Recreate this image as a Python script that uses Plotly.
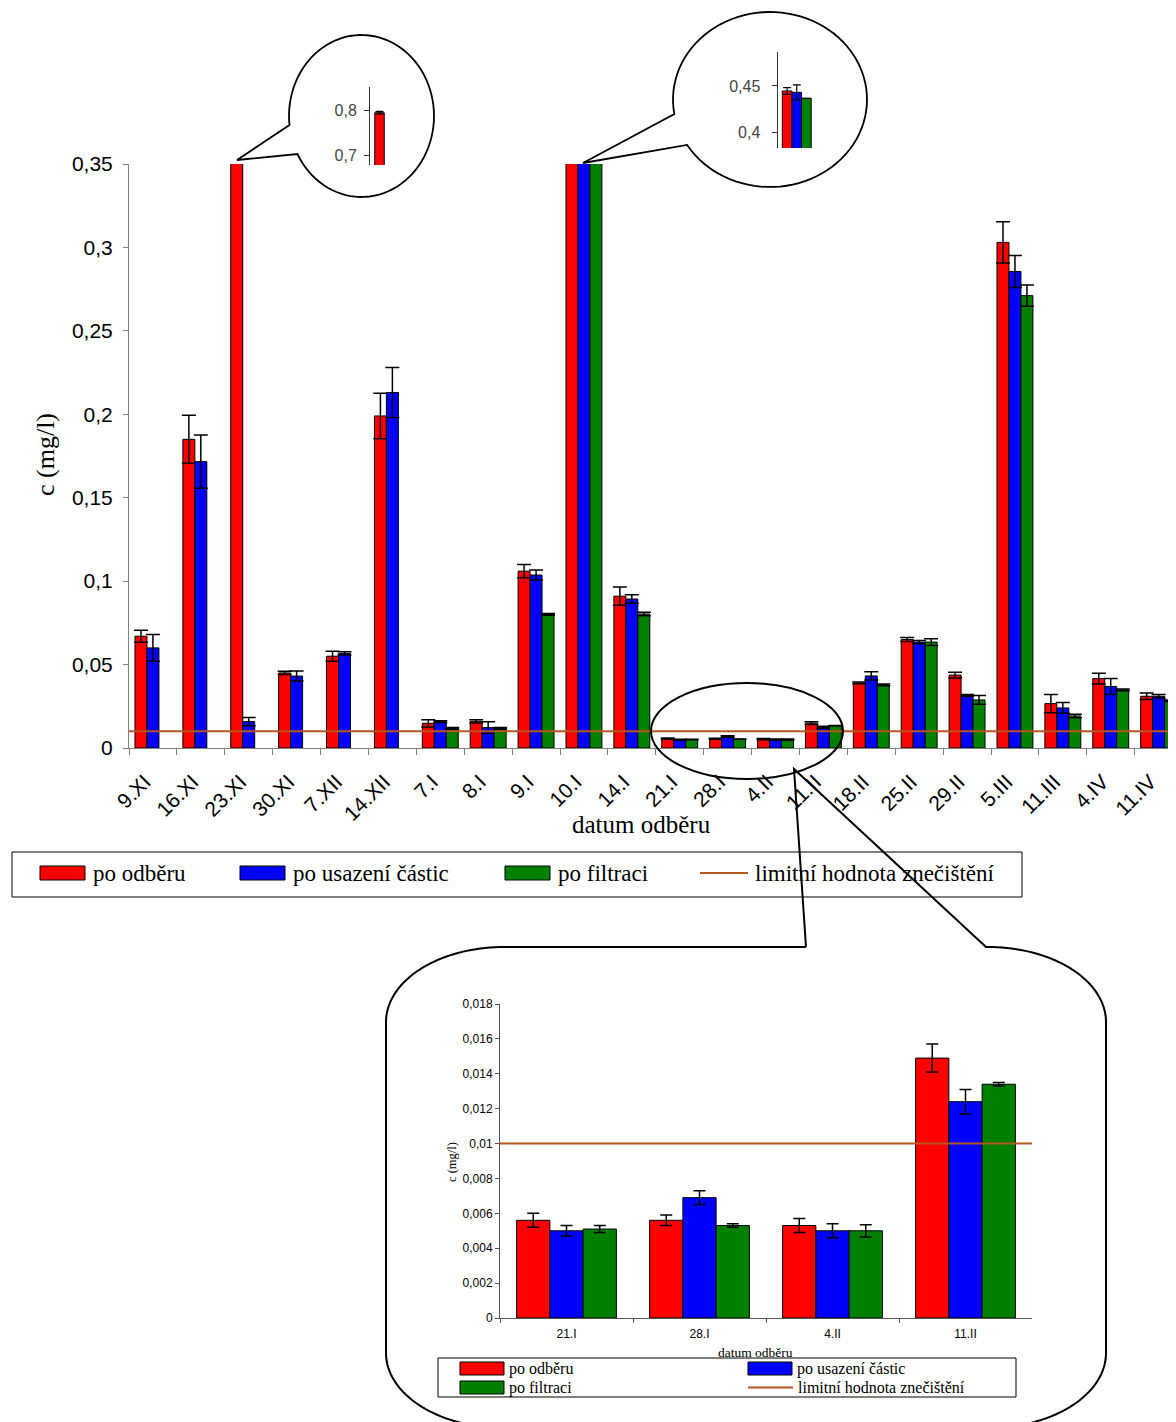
import numpy as np
import plotly.graph_objects as go

W, H = 1176, 1422
OFF = 8  # page body margin of the browser

# ---------------- data ----------------
CATEGORIES = ["9.XI", "16.XI", "23.XI", "30.XI", "7.XII", "14.XII", "7.I", "8.I", "9.I",
              "10.I", "14.I", "21.I", "28.I", "4.II", "11.II", "18.II", "25.II", "29.II",
              "5.III", "11.III", "4.IV", "11.IV"]
RED = [0.067, 0.185, 0.794, 0.045, 0.055, 0.199, 0.0148, 0.016, 0.106, 0.4447, 0.091,
       0.0056, 0.0056, 0.0053, 0.0149, 0.039, 0.065, 0.0437, 0.303, 0.0266, 0.0416, 0.031]
RED_ERR = [0.0036, 0.0144, 0.003, 0.001, 0.003, 0.0136, 0.0022, 0.001, 0.004, 0.0036, 0.0055,
           0.0004, 0.0003, 0.0004, 0.0008, 0.0005, 0.0012, 0.0017, 0.0124, 0.0054, 0.0032, 0.002]
BLUE = [0.060, 0.1716, 0.0158, 0.0431, 0.0567, 0.213, 0.0158, 0.0122, 0.1037, 0.4432, 0.0893,
        0.0050, 0.0069, 0.0050, 0.0124, 0.0432, 0.0635, 0.0315, 0.2856, 0.024, 0.0369, 0.031]
BLUE_ERR = [0.008, 0.016, 0.0025, 0.003, 0.001, 0.015, 0.0005, 0.0035, 0.003, 0.008, 0.0025,
            0.0003, 0.0004, 0.0004, 0.0007, 0.0025, 0.001, 0.0005, 0.0096, 0.0032, 0.0048, 0.001]
GREEN = [None, None, None, None, None, None, 0.0118, 0.0118, 0.0801, 0.4368, 0.0803,
         0.0051, 0.0053, 0.0050, 0.0134, 0.0378, 0.0635, 0.0288, 0.2711, 0.0192, 0.0348, 0.0283]
GREEN_ERR = [0, 0, 0, 0, 0, 0, 0.0005, 0.0005, 0.0005, 0.0, 0.001,
             0.0002, 0.0001, 0.00035, 0.0001, 0.0005, 0.002, 0.0026, 0.0064, 0.001, 0.0005, 0.0005]
LIMIT = 0.01

SERIES_NAMES = ["po odběru", "po usazení částic", "po filtraci"]
LIMIT_NAME = "limitní hodnota znečištění"
X_TITLE = "datum odběru"
Y_TITLE = "c (mg/l)"

MAIN_YTICKS = [0, 0.05, 0.1, 0.15, 0.2, 0.25, 0.3, 0.35]
INSET1_YTICKS = [0.7, 0.8]
INSET2_YTICKS = [0.4, 0.45]
ZOOM_IDX = [11, 12, 13, 14]   # 21.I .. 11.II

COLORS = ["#FF0000", "#0000FF", "#008000"]
LIMIT_COLOR = "#B8561E"
SANS = "Liberation Sans"
SERIF = "Liberation Serif"


def X(px):
    return (px - OFF) / W


def Y(py):
    return 1 - (py - OFF) / H


fig = go.Figure()

series = [(RED, RED_ERR), (BLUE, BLUE_ERR), (GREEN, GREEN_ERR)]

# main chart
for (vals, errs), color, name in zip(series, COLORS, SERIES_NAMES):
    fig.add_bar(x=CATEGORIES, y=vals, name=name, xaxis="x", yaxis="y",
                marker=dict(color=color, line=dict(color="black", width=1)),
                error_y=dict(type="data", array=errs, color="black", thickness=1.5, width=7),
                showlegend=False)

# inset 1 (23.XI)
for (vals, errs), color, name in zip(series, COLORS, SERIES_NAMES):
    fig.add_bar(x=[CATEGORIES[2]], y=[vals[2]], name=name, xaxis="x2", yaxis="y2",
                marker=dict(color=color, line=dict(color="black", width=1)),
                error_y=dict(type="data", array=[errs[2]], color="black", thickness=1.2, width=4),
                showlegend=False)

# inset 2 (10.I)
for (vals, errs), color, name in zip(series, COLORS, SERIES_NAMES):
    fig.add_bar(x=[CATEGORIES[9]], y=[vals[9]], name=name, xaxis="x3", yaxis="y3",
                marker=dict(color=color, line=dict(color="black", width=1)),
                error_y=dict(type="data", array=[errs[9]], color="black", thickness=1.2, width=4),
                showlegend=False)

# inset 4 (21.I - 11.II)
for (vals, errs), color, name in zip(series, COLORS, SERIES_NAMES):
    fig.add_bar(x=[CATEGORIES[i] for i in ZOOM_IDX], y=[vals[i] for i in ZOOM_IDX], name=name,
                xaxis="x4", yaxis="y4",
                marker=dict(color=color, line=dict(color="black", width=1)),
                error_y=dict(type="data", array=[errs[i] for i in ZOOM_IDX], color="black",
                             thickness=1.5, width=6),
                showlegend=False)

AX_GREY = "#808080"

fig.update_layout(
    width=W, height=H, margin=dict(l=0, r=0, t=0, b=0),
    paper_bgcolor="white", plot_bgcolor="white",
    barmode="group", bargap=0.25, bargroupgap=0,
    separators=", ",
    showlegend=False,
    xaxis=dict(domain=[X(129), 1.0], range=[-0.5, 21.53], type="category", anchor="y",
               tickvals=CATEGORIES, ticktext=[c + "\u00a0\u00a0" for c in CATEGORIES],
               showline=True, linecolor=AX_GREY, linewidth=1, ticks="outside", ticklen=6,
               tickcolor=AX_GREY, tickson="boundaries", tickangle=-45, ticklabelstandoff=4,
               tickfont=dict(family=SANS, size=21, color="black"),
               showgrid=False, zeroline=False, automargin=False),
    yaxis=dict(domain=[Y(748), Y(164)], range=[0, 0.35], anchor="x",
               tickvals=MAIN_YTICKS, showline=True, linecolor=AX_GREY, linewidth=1,
               ticks="outside", ticklen=5, tickcolor=AX_GREY, ticklabelstandoff=6,
               tickfont=dict(family=SANS, size=21, color="black"),
               showgrid=False, zeroline=False, automargin=False),
    xaxis2=dict(domain=[X(370), X(408)], range=[-0.5, 0.5], type="category", anchor="y2",
                visible=False),
    yaxis2=dict(domain=[Y(165), Y(86.7)], range=[0.6778, 0.8518], anchor="x2",
                tickvals=INSET1_YTICKS, showline=True, linecolor="#333333", linewidth=1,
                ticks="outside", ticklen=5, tickcolor="#333333", ticklabelstandoff=4,
                tickfont=dict(family=SANS, size=16, color="#444444"),
                showgrid=False, zeroline=False, automargin=False),
    xaxis3=dict(domain=[X(777.5), X(816)], range=[-0.5, 0.5], type="category", anchor="y3",
                visible=False),
    yaxis3=dict(domain=[Y(148), Y(52)], range=[0.3836, 0.4864], anchor="x3",
                tickvals=INSET2_YTICKS, showline=True, linecolor="#333333", linewidth=1,
                ticks="outside", ticklen=5, tickcolor="#333333", ticklabelstandoff=8,
                tickfont=dict(family=SANS, size=16, color="#444444"),
                showgrid=False, zeroline=False, automargin=False),
    xaxis4=dict(domain=[X(500), X(1032)], range=[-0.5, 3.5], type="category", anchor="y4",
                showline=True, linecolor="#555555", linewidth=1, ticks="outside", ticklen=4,
                tickcolor="#555555", tickson="boundaries", ticklabelstandoff=5,
                tickfont=dict(family=SANS, size=12, color="black"),
                showgrid=False, zeroline=False, automargin=False),
    yaxis4=dict(domain=[Y(1318), Y(1004)], range=[0, 0.018], dtick=0.002, tick0=0, anchor="x4",
                showline=True, linecolor="#555555", linewidth=1, ticks="outside", ticklen=4,
                tickcolor="#555555",
                tickfont=dict(family=SANS, size=12, color="black"),
                showgrid=False, zeroline=False, automargin=False),
)

shapes = []
# limit lines
shapes.append(dict(type="line", xref="x domain", yref="y", x0=0, x1=1, y0=LIMIT, y1=LIMIT,
                   line=dict(color=LIMIT_COLOR, width=2), layer="above"))
shapes.append(dict(type="line", xref="x4 domain", yref="y4", x0=0, x1=1, y0=LIMIT, y1=LIMIT,
                   line=dict(color=LIMIT_COLOR, width=2), layer="above"))


def ell_pts(cx, cy, rx, ry, t0, t1, n=90):
    ts = np.radians(np.linspace(t0, t1, n))
    return [(cx + rx * np.cos(t), cy + ry * np.sin(t)) for t in ts]


def to_path(pts, close=False):
    s = "M " + " L ".join(f"{X(px):.5f},{Y(py):.5f}" for px, py in pts)
    return s + (" Z" if close else "")


# callout bubble 1
b1 = [(237, 160)] + ell_pts(361.5, 116, 72.5, 81, 173.6, 512)
shapes.append(dict(type="path", xref="paper", yref="paper", path=to_path(b1, True),
                   line=dict(color="black", width=1.8)))
# callout bubble 2
b2 = [(583, 163)] + ell_pts(770, 99.5, 97, 87.5, 170.5, 508.7)
shapes.append(dict(type="path", xref="paper", yref="paper", path=to_path(b2, True),
                   line=dict(color="black", width=1.8)))
# ellipse around low values
shapes.append(dict(type="circle", xref="paper", yref="paper", x0=X(651), x1=X(843),
                   y0=Y(779), y1=Y(683), line=dict(color="black", width=2)))
# big rounded callout
rx, ry = 118, 75
L, R, T, B = 386, 1106, 947, 1428
c4 = [(806, T), (L + rx, T)]
c4 += ell_pts(L + rx, T + ry, rx, ry, 270, 180, 40)
c4 += ell_pts(L + rx, B - ry, rx, ry, 180, 90, 40)
c4 += ell_pts(R - rx, B - ry, rx, ry, 90, 0, 40)
c4 += ell_pts(R - rx, T + ry, rx, ry, 0, -90, 40)
c4 += [(986, T), (794, 769), (806, T)]
shapes.append(dict(type="path", xref="paper", yref="paper", path=to_path(c4),
                   line=dict(color="black", width=2)))

annotations = []

# main legend
shapes.append(dict(type="rect", xref="paper", yref="paper", x0=X(12), x1=X(1022),
                   y0=Y(897), y1=Y(852), line=dict(color="black", width=1)))
leg_main = [(40, COLORS[0], SERIES_NAMES[0]), (240, COLORS[1], SERIES_NAMES[1]),
            (505, COLORS[2], SERIES_NAMES[2])]
for x0, col, name in leg_main:
    shapes.append(dict(type="rect", xref="paper", yref="paper", x0=X(x0), x1=X(x0 + 45),
                       y0=Y(880), y1=Y(866), fillcolor=col, line=dict(color="black", width=1)))
    annotations.append(dict(xref="paper", yref="paper", x=X(x0 + 51), y=Y(873), text=name,
                            showarrow=False, xanchor="left", yanchor="middle",
                            font=dict(family=SERIF, size=23, color="black")))
shapes.append(dict(type="line", xref="paper", yref="paper", x0=X(700), x1=X(748),
                   y0=Y(873), y1=Y(873), line=dict(color=LIMIT_COLOR, width=2)))
annotations.append(dict(xref="paper", yref="paper", x=X(753), y=Y(873), text=LIMIT_NAME,
                        showarrow=False, xanchor="left", yanchor="middle",
                        font=dict(family=SERIF, size=23, color="black")))

# small legend
shapes.append(dict(type="rect", xref="paper", yref="paper", x0=X(438), x1=X(1016),
                   y0=Y(1397), y1=Y(1358), line=dict(color="black", width=1)))
leg_small = [(460, 1368.5, COLORS[0], SERIES_NAMES[0]), (748, 1368.5, COLORS[1], SERIES_NAMES[1]),
             (460, 1387.5, COLORS[2], SERIES_NAMES[2])]
for x0, yc, col, name in leg_small:
    shapes.append(dict(type="rect", xref="paper", yref="paper", x0=X(x0), x1=X(x0 + 44),
                       y0=Y(yc + 6.5), y1=Y(yc - 6.5), fillcolor=col,
                       line=dict(color="black", width=1)))
    annotations.append(dict(xref="paper", yref="paper", x=X(x0 + 47), y=Y(yc), text=name,
                            showarrow=False, xanchor="left", yanchor="middle",
                            font=dict(family=SERIF, size=16, color="black")))
shapes.append(dict(type="line", xref="paper", yref="paper", x0=X(748), x1=X(793),
                   y0=Y(1387.5), y1=Y(1387.5), line=dict(color=LIMIT_COLOR, width=2)))
annotations.append(dict(xref="paper", yref="paper", x=X(796), y=Y(1387.5), text=LIMIT_NAME,
                        showarrow=False, xanchor="left", yanchor="middle",
                        font=dict(family=SERIF, size=16, color="black")))

# axis titles
annotations.append(dict(xref="paper", yref="paper", x=X(45), y=Y(455), text=Y_TITLE,
                        textangle=-90, showarrow=False, xanchor="center", yanchor="middle",
                        font=dict(family=SERIF, size=26, color="black")))
annotations.append(dict(xref="paper", yref="paper", x=X(641), y=Y(824), text=X_TITLE,
                        showarrow=False, xanchor="center", yanchor="middle",
                        font=dict(family=SERIF, size=25, color="black")))
annotations.append(dict(xref="paper", yref="paper", x=X(452), y=Y(1162), text=Y_TITLE,
                        textangle=-90, showarrow=False, xanchor="center", yanchor="middle",
                        font=dict(family=SERIF, size=12.5, color="black")))
annotations.append(dict(xref="paper", yref="paper", x=X(755), y=Y(1352), text=X_TITLE,
                        showarrow=False, xanchor="center", yanchor="middle",
                        font=dict(family=SERIF, size=13.5, color="black")))

fig.update_layout(shapes=shapes, annotations=annotations)
fig.write_html("out.html")
